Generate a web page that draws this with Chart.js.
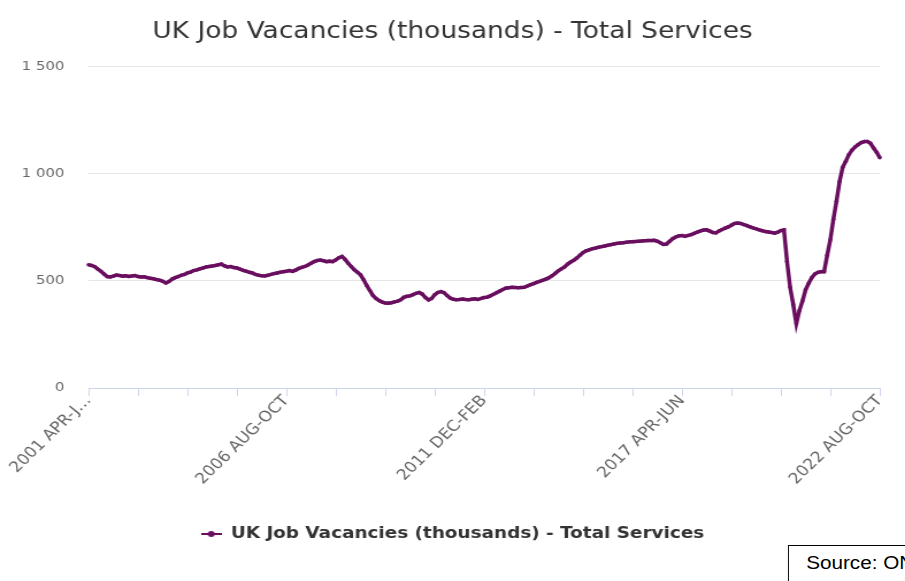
<!DOCTYPE html>
<html>
<head>
<meta charset="utf-8">
<script src="https://cdn.jsdelivr.net/npm/chart.js@4"></script>
<style>
html, body { margin: 0; padding: 0; background: #fff; overflow: hidden; }
#wrap { position: relative; width: 787px; height: 581px; transform: scaleX(1.15); transform-origin: 0 0; overflow: hidden; }
#source { position: absolute; left: 685px; top: 545px; width: 200px; height: 60px; border: 1px solid #000; box-sizing: border-box;
  font: 18px "Liberation Sans", Arial, sans-serif; padding: 7px 0 0 15px; background: #fff; color: #000; }
</style>
</head>
<body>
<div id="wrap">
  <canvas id="chart" width="787" height="581"></canvas>
  <div id="source">Source: ONS</div>
</div>
<script>
const seriesName = 'UK Job Vacancies (thousands) - Total Services';
const lineColor = '#6a0f5f';
const monthNames = ['JAN','FEB','MAR','APR','MAY','JUN','JUL','AUG','SEP','OCT','NOV','DEC'];
const startYear = 2001, startMonth = 3; // first period: 2001 APR-JUN
const yTicks = [0, 500, 1000, 1500];

// rolling 3 month periods, thousands
const vacancies = [
  575,572,566,555,545,532,520,518,522,527,525,522,
  524,521,523,525,520,518,519,515,512,510,506,503,
  498,490,497,508,515,520,526,530,537,541,548,551,
  556,560,565,567,569,572,575,578,570,565,567,562,
  560,555,549,545,540,537,530,526,524,523,526,530,
  534,537,540,543,545,548,544,550,558,563,567,574,
  582,590,595,597,594,590,592,590,598,608,614,600,
  582,567,552,540,528,505,478,455,432,418,408,401,
  397,396,398,402,405,412,423,428,430,436,442,446,
  438,422,411,418,435,446,450,445,432,420,414,412,
  413,415,413,412,414,416,413,418,422,424,430,437,
  445,452,460,466,468,470,469,468,469,470,476,482,
  487,493,498,503,508,515,524,535,547,556,565,578,
  588,596,607,620,632,640,645,650,653,657,660,663,
  666,669,672,675,677,678,680,682,683,684,685,686,
  687,688,688,689,685,678,670,672,685,697,705,710,
  712,708,712,716,722,728,733,737,738,732,726,724,
  733,740,746,752,760,768,770,768,763,758,752,747,
  743,738,734,730,728,726,723,727,735,738,590,470,
  390,300,361,406,458,489,515,532,540,543,543,620,
  692,788,871,964,1030,1058,1089,1110,1125,1136,1145,1150,
  1150,1142,1120,1100,1075
];

const periods = [];
for (let i = 0; i < vacancies.length; i++) {
  const m = (startMonth + i) % 12;
  const y = startYear + Math.floor((startMonth + i) / 12);
  periods.push(y + ' ' + monthNames[m] + '-' + monthNames[(m + 2) % 12]);
}

// legend marker: short line with a dot
const icon = document.createElement('canvas');
icon.width = 18; icon.height = 10;
const ic = icon.getContext('2d');
ic.strokeStyle = lineColor; ic.lineWidth = 2;
ic.beginPath(); ic.moveTo(0, 5); ic.lineTo(18, 5); ic.stroke();
ic.fillStyle = lineColor;
ic.beginPath(); ic.arc(9, 5, 3, 0, Math.PI * 2); ic.fill();

Chart.defaults.font.family = 'DejaVu Sans';

new Chart(document.getElementById('chart'), {
  type: 'line',
  data: {
    labels: periods,
    datasets: [{
      label: seriesName,
      data: vacancies,
      borderColor: lineColor,
      backgroundColor: lineColor,
      borderWidth: 3.5,
      pointRadius: 1.8,
      pointBorderWidth: 0,
      pointBackgroundColor: lineColor,
      tension: 0
    }]
  },
  options: {
    responsive: false,
    animation: false,
    devicePixelRatio: 1,
    layout: { padding: { left: 0, right: 0, top: 0, bottom: 29 } },
    plugins: {
      title: {
        display: true,
        text: seriesName,
        color: '#333',
        font: { size: 23, weight: 'normal' },
        padding: { top: 18, bottom: 21 }
      },
      legend: {
        position: 'bottom',
        labels: {
          usePointStyle: true,
          pointStyle: icon,
          pointStyleWidth: 18,
          color: '#333',
          font: { size: 16, weight: 'bold' },
          padding: 10
        }
      },
      tooltip: { enabled: false }
    },
    scales: {
      x: {
        grid: {
          drawOnChartArea: false,
          tickLength: 8,
          tickColor: ctx => ctx.index % 16 === 0 ? '#ccd6eb' : 'rgba(0,0,0,0)'
        },
        border: { color: '#ccd6eb' },
        ticks: {
          autoSkip: false,
          minRotation: 48,
          maxRotation: 48,
          padding: -4,
          color: '#666',
          font: { size: 15 },
          callback: function(value, index) {
            if (index % 64 !== 0) return '';
            const lab = this.getLabelForValue(value);
            return index === 0 ? lab.slice(0, 10) + '…' : lab;
          }
        },
        afterFit: s => { s.height = 128; }
      },
      y: {
        min: yTicks[0],
        max: yTicks[yTicks.length - 1],
        grid: { color: '#e6e6e6', drawTicks: false },
        border: { display: false },
        ticks: {
          stepSize: yTicks[1] - yTicks[0],
          padding: 21,
          color: '#666',
          font: { size: 13 },
          callback: v => String(v).replace(/\B(?=(\d{3})+(?!\d))/g, ' ')
        },
        afterFit: s => { s.width = 77; }
      },
      // empty right-hand strip so the title and legend stay centred on the canvas
      yRight: {
        position: 'right',
        grid: { display: false },
        border: { display: false },
        ticks: { display: false },
        afterFit: s => { s.width = 22; }
      }
    }
  }
});
</script>
</body>
</html>
